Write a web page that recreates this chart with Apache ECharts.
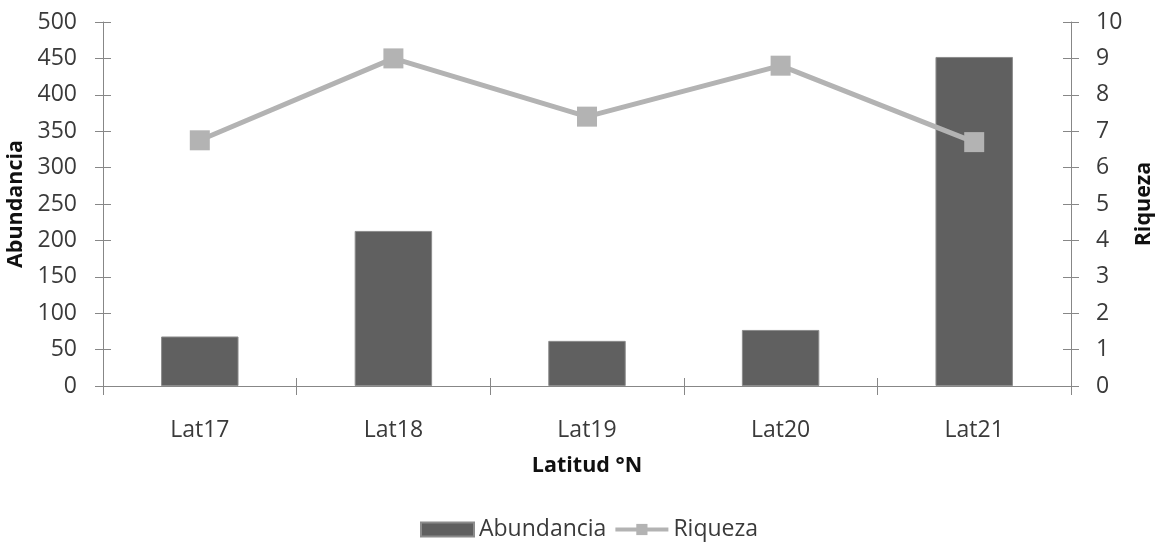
<!DOCTYPE html>
<html>
<head>
<meta charset="utf-8">
<script src="https://cdn.jsdelivr.net/npm/echarts@6/dist/echarts.min.js"></script>
<style>
  html, body { margin: 0; padding: 0; background: #ffffff; }
  #chart { width: 1160px; height: 543px; }
</style>
</head>
<body>
<div id="chart"></div>
<script>
// Latitude bands
const categories = ['Lat17', 'Lat18', 'Lat19', 'Lat20', 'Lat21'];
// Abundance per band (left axis)
const abundancia = [68, 213, 62, 77, 452];
// Species richness per band (right axis)
const riqueza = [6.75, 9.0, 7.4, 8.8, 6.7];
// Axis ranges
const leftAxis = { min: 0, max: 500, interval: 50 };
const rightAxis = { min: 0, max: 10, interval: 1 };

const FONT = 'Open Sans';
const AXIS_COLOR = '#878787';
const TEXT_COLOR = '#3a3a3a';
const TITLE_STYLE = { fontFamily: FONT, fontSize: 21.5, fontWeight: 'bold', color: '#111' };

const chart = echarts.init(document.getElementById('chart'), null, { renderer: 'canvas' });

// Ticks in this style cross the axis line, so each axis gets an inside-tick twin.
function tickTwin(base) {
  return Object.assign({}, base, {
    name: '',
    axisLine: { show: false },
    axisLabel: { show: false },
    axisTick: { show: true, inside: true, length: 8, lineStyle: { color: AXIS_COLOR, width: 1 } },
    splitLine: { show: false }
  });
}

const xMain = {
  type: 'category',
  data: categories,
  position: 'bottom',
  boundaryGap: true,
  name: 'Latitud °N',
  nameLocation: 'middle',
  nameGap: 69,
  nameTextStyle: TITLE_STYLE,
  axisLine: { show: true, lineStyle: { color: AXIS_COLOR, width: 1 } },
  axisTick: { show: true, alignWithLabel: false, length: 9, lineStyle: { color: AXIS_COLOR, width: 1 } },
  axisLabel: { margin: 33, fontFamily: FONT, fontSize: 23, color: TEXT_COLOR }
};

const yLeft = {
  type: 'value',
  position: 'left',
  min: leftAxis.min, max: leftAxis.max, interval: leftAxis.interval,
  name: 'Abundancia',
  nameLocation: 'middle',
  nameRotate: 90,
  nameGap: 66,
  nameTextStyle: TITLE_STYLE,
  axisLine: { show: true, lineStyle: { color: AXIS_COLOR, width: 1 } },
  axisTick: { show: true, length: 8, lineStyle: { color: AXIS_COLOR, width: 1 } },
  axisLabel: { margin: 26, fontFamily: FONT, fontSize: 23, color: TEXT_COLOR },
  splitLine: { show: false }
};

const yRight = {
  type: 'value',
  position: 'right',
  min: rightAxis.min, max: rightAxis.max, interval: rightAxis.interval,
  name: 'Riqueza',
  nameLocation: 'middle',
  nameRotate: 90,
  nameGap: 62,
  nameTextStyle: TITLE_STYLE,
  axisLine: { show: true, lineStyle: { color: AXIS_COLOR, width: 1 } },
  axisTick: { show: true, length: 8, lineStyle: { color: AXIS_COLOR, width: 1 } },
  axisLabel: { margin: 25, fontFamily: FONT, fontSize: 23, color: TEXT_COLOR },
  splitLine: { show: false }
};

const option = {
  backgroundColor: '#ffffff',
  animation: false,
  grid: { left: 103, right: 89, top: 22, bottom: 157, containLabel: false, outerBoundsMode: 'none' },
  legend: {
    top: 518,
    left: 420,
    padding: 0,
    itemWidth: 53,
    itemHeight: 14,
    itemGap: 7,
    textStyle: { fontFamily: FONT, fontSize: 23, color: TEXT_COLOR },
    data: [
      { name: 'Abundancia', icon: 'rect' },
      { name: 'Riqueza', lineStyle: { width: 4, color: '#b3b3b3' } }
    ]
  },
  xAxis: [xMain, tickTwin(xMain)],
  yAxis: [yLeft, yRight, tickTwin(yLeft), tickTwin(yRight)],
  series: [
    {
      name: 'Abundancia',
      type: 'bar',
      xAxisIndex: 0,
      yAxisIndex: 0,
      data: abundancia,
      barWidth: '40%',
      itemStyle: { color: '#606060', borderColor: '#8c8c8c', borderWidth: 1 },
      z: 2
    },
    {
      name: 'Riqueza',
      type: 'line',
      xAxisIndex: 0,
      yAxisIndex: 1,
      data: riqueza,
      symbol: 'rect',
      symbolSize: 20,
      lineStyle: { color: '#b3b3b3', width: 5 },
      itemStyle: { color: '#b3b3b3' },
      z: 3
    }
  ]
};

chart.setOption(option);
</script>
</body>
</html>
